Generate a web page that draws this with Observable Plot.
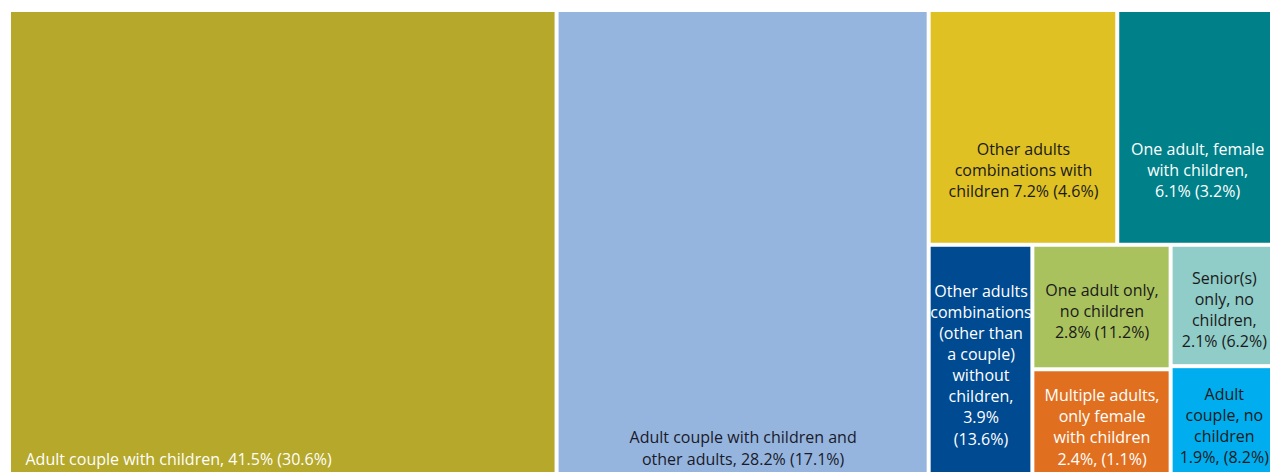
<!DOCTYPE html>
<html><head><meta charset="utf-8">
<script src="https://cdn.jsdelivr.net/npm/d3@7"></script>
<script src="https://cdn.jsdelivr.net/npm/@observablehq/plot@0.6"></script>
<style>html,body{margin:0;padding:0;background:#fff;overflow:hidden;}</style>
</head><body><div id="chart"></div>
<script>
const categories = [
  "Adult couple with children",
  "Adult couple with children and other adults",
  "Other adults combinations with children",
  "One adult, female with children",
  "Other adults combinations (other than a couple) without children",
  "One adult only, no children",
  "Multiple adults, only female with children",
  "Senior(s) only, no children",
  "Adult couple, no children"
];
const shares = [41.5, 28.2, 7.2, 6.1, 3.9, 2.8, 2.4, 2.1, 1.9];
const comparison = [30.6, 17.1, 4.6, 3.2, 13.6, 11.2, 1.1, 6.2, 8.2];
const labels = [
  "Adult couple with children, 41.5% (30.6%)",
  "Adult couple with children and\nother adults, 28.2% (17.1%)",
  "Other adults\ncombinations with\nchildren 7.2% (4.6%)",
  "One adult, female\nwith children,\n6.1% (3.2%)",
  "Other adults\ncombinations\n(other than\na couple)\nwithout\nchildren,\n3.9%\n(13.6%)",
  "One adult only,\nno children\n2.8% (11.2%)",
  "Multiple adults,\nonly female\nwith children\n2.4%, (1.1%)",
  "Senior(s)\nonly, no\nchildren,\n2.1% (6.2%)",
  "Adult\ncouple, no\nchildren\n1.9%, (8.2%)"
];
// grouping of the tiles (nesting path)
const groupPaths = ["a","b","r/t/c","r/t/d","r/b/e","r/b/p/f","r/b/p/g","r/b/q/h","r/b/q/k"];
const fills = ["#b5a82a","#95b5de","#dfc124","#00818a","#004a91","#a9c25e","#e0701f","#90ccc8","#00aeef"];
const inks  = ["#ffffff","#1a1a2a","#1a1a1a","#ffffff","#ffffff","#1a1a1a","#ffffff","#1a1a1a","#1a1a1a"];
const placement = ["bottomLeft","bottomCenter","upperMiddle","upperMiddle","middle","middle","middle","middle","middle"];

const W = 1264, H = 462;
function build() {
  const root = {children: []};
  groupPaths.forEach((p, i) => {
    let node = root;
    const parts = p.split("/");
    parts.slice(0, -1).forEach(k => {
      let c = node.children.find(c => c.key === k);
      if (!c) { c = {key: k, children: []}; node.children.push(c); }
      node = c;
    });
    node.children.push({i});
  });
  return root;
}
const root = d3.treemap().tile(d3.treemapSliceDice).size([W, H]).paddingInner(4)(
  d3.hierarchy(build()).sum(d => d.i != null ? shares[d.i] : 0)
);
const cells = root.leaves().map(l => ({
  i: l.data.i, name: categories[l.data.i], share: shares[l.data.i], comp: comparison[l.data.i],
  label: labels[l.data.i], fill: fills[l.data.i], ink: inks[l.data.i], place: placement[l.data.i],
  x0: l.x0, x1: l.x1, y0: l.y0, y1: l.y1, cx: (l.x0 + l.x1) / 2, cy: (l.y0 + l.y1) / 2
}));

const font = {fontFamily: "'Open Sans', sans-serif", fontSize: 16, lineHeight: 1.32};
const chart = Plot.plot({
  width: 1270, height: 472,
  margin: 0,
  x: {domain: [0, W], range: [11, 11 + W], axis: null},
  y: {domain: [0, H], range: [12, 12 + H], axis: null},
  style: {background: "#fff"},
  marks: [
    Plot.rect(cells, {x1: "x0", x2: "x1", y1: "y0", y2: "y1", fill: d => d.fill}),
    Plot.text(cells.filter(d => d.place === "bottomLeft"), {
      x: d => d.x0, y: "y1", text: "label", fill: d => d.ink, textAnchor: "start", lineAnchor: "bottom",
      dx: 14, dy: -10, ...font
    }),
    Plot.text(cells.filter(d => d.place === "bottomCenter"), {
      x: "cx", y: "y1", text: "label", fill: d => d.ink, lineAnchor: "bottom", dy: -10, ...font
    }),
    Plot.text(cells.filter(d => d.place === "upperMiddle"), {
      x: "cx", y: "cy", text: "label", fill: d => d.ink, lineAnchor: "middle", dy: 41, ...font
    }),
    Plot.text(cells.filter(d => d.place === "middle"), {
      x: "cx", y: "cy", text: "label", fill: d => d.ink, lineAnchor: "middle", dy: 3, ...font
    })
  ]
});
document.getElementById("chart").append(chart);
</script>
</body></html>
